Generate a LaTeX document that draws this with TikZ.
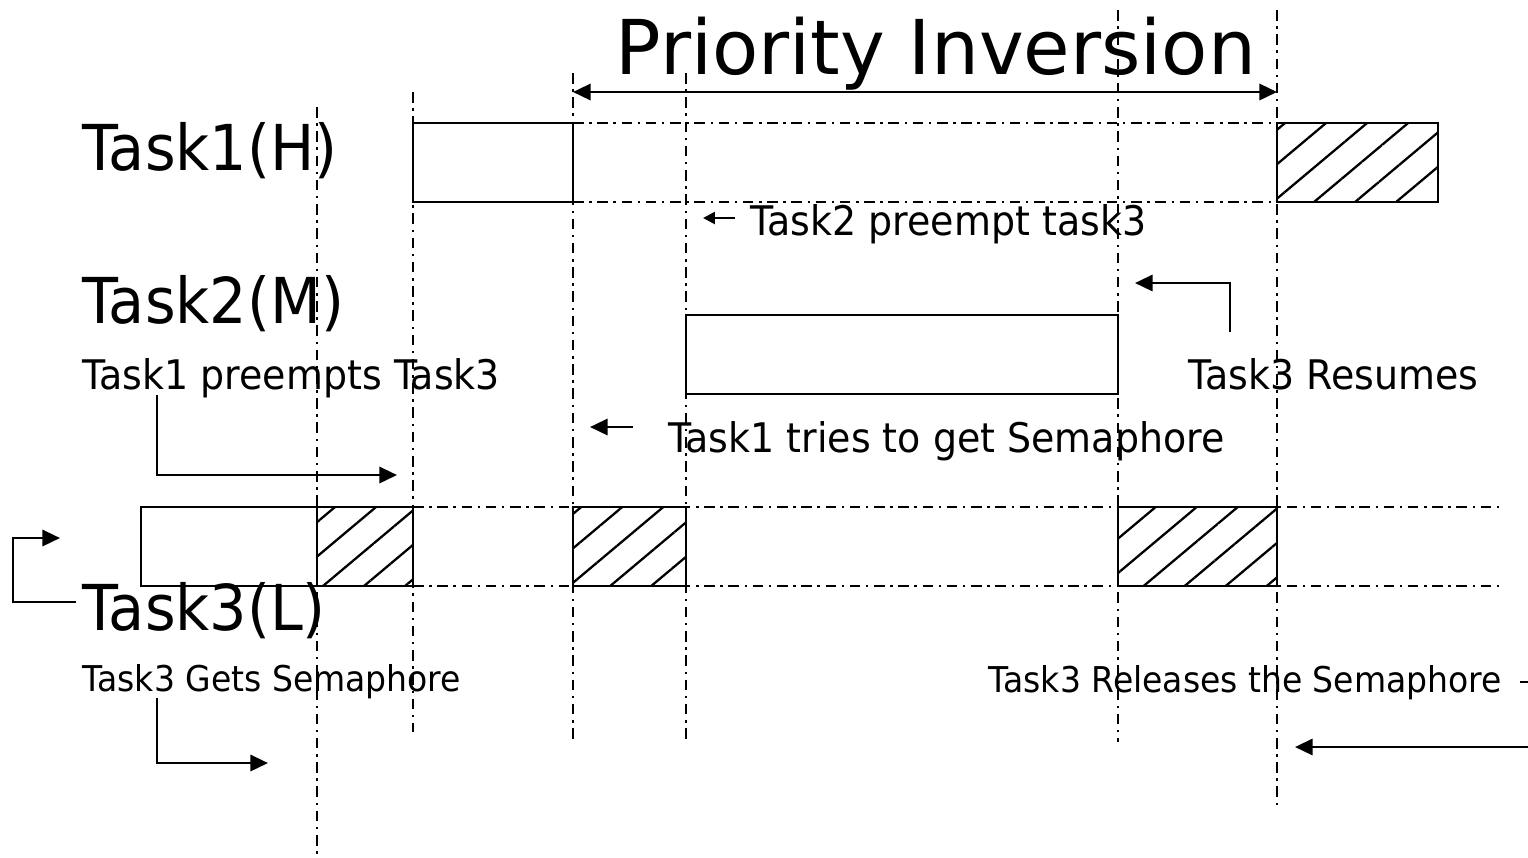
\documentclass[tikz,border=0pt]{standalone}
\usepackage{fontspec}
\setmainfont{DejaVu Sans}[FakeStretch=0.93]
\newfontfamily\headfont{DejaVu Sans}
\usetikzlibrary{arrows.meta,patterns.meta}

\tikzset{
  guide/.style={line width=0.55pt,dash pattern=on 3pt off 1.6pt on 0.7pt off 1.6pt},
  slot/.style={draw,line width=0.75pt},
  held/.style={slot,pattern={Lines[angle=40,distance=7.5pt,line width=0.65pt]}},
  pointer/.style={line width=0.75pt,-{Triangle[length=5pt,width=4.6pt]}},
  small pointer/.style={line width=0.75pt,-{Triangle[length=3.4pt,width=3.4pt]}},
  txt/.style={inner sep=0pt,anchor=base west},
  lane/.style={txt,font=\fontsize{18}{20}\selectfont},
  note/.style={txt,font=\fontsize{11.6}{14}\selectfont},
  remark/.style={txt,font=\fontsize{10.1}{12}\selectfont},
}

\begin{document}
\begin{tikzpicture}[x=0.01cm,y=-0.01cm]
    \clip (0,0) rectangle (1528,857);
    % linee verticali degli istanti
    \draw[guide] (317,107) -- (317,857);
    \draw[guide] (413,92) -- (413,732);
    \draw[guide] (573,73) -- (573,742);
    \draw[guide] (686,73) -- (686,742);
    \draw[guide] (1118,10) -- (1118,742);
    \draw[guide] (1277,10) -- (1277,808);
    % riga di task1
    \draw[guide] (573,123) -- (1277,123) (573,202) -- (1277,202);
    \draw[slot] (413,123) rectangle (573,202);
    \draw[held] (1277,123) rectangle (1438,202);
    % riga di task2
    \draw[slot] (686,315) rectangle (1118,394);
    % riga di task3
    \draw[guide] (413,507) -- (1500,507) (413,586) -- (1500,586);
    \draw[slot] (141,507) rectangle (317,586);
    \draw[held] (317,507) rectangle (413,586);
    \draw[held] (573,507) rectangle (686,586);
    \draw[held] (1118,507) rectangle (1277,586);
    % inversione di priorita
    \node[txt,font=\headfont\fontsize{21.5}{24}\selectfont] (title) at (615,74) {Priority Inversion};
    \coordinate (inv start) at (573,92);
    \coordinate (inv end) at (1277,92);
    \draw[line width=0.75pt,{Triangle[length=5pt,width=4.6pt]}-{Triangle[length=5pt,width=4.6pt]}] (inv start) -- (inv end);
    % nomi dei task
    \node[lane] (task1) at (82,170) {Task1(H)};
    \node[lane] (task2) at (82,323) {Task2(M)};
    \node[lane] (task3) at (82,630) {Task3(L)};
    % eventi
    \node[note] (preempt1) at (82,389) {Task1 preempts Task3};
    \node[note] (tries) at (668,452) {Task1 tries to get Semaphore};
    \node[note] (preempt2) at (750,235) {Task2 preempt task3};
    \node[note] (resume) at (1188,389) {Task3 Resumes};
    \node[remark] (gets) at (82,691) {Task3 Gets Semaphore};
    \node[remark] (release) at (988,692) {Task3 Releases the Semaphore};
    % frecce degli eventi
    \coordinate (preempt1 end) at (397,475);
    \draw[pointer] (preempt1.south west) ++(75,-3) |- (preempt1 end);
    \coordinate (tries end) at (590,427);
    \draw[pointer] (tries.base west) ++(-35,-25) -- (tries end);
    \coordinate (preempt2 end) at (703,218);
    \draw[small pointer] (preempt2.base west) ++(-15,-17) -- (preempt2 end);
    \coordinate (resume end) at (1135,283);
    \draw[pointer] (resume.base west) ++(42,-57) |- (resume end);
    \coordinate (gets end) at (268,763);
    \draw[pointer] (gets.base west) ++(75,7) |- (gets end);
    \coordinate (task3 end) at (60,538);
    \draw[pointer] (task3.base west) ++(-6,-28) -- ++(-63,0) |- (task3 end);
    \coordinate (release end) at (1295,747);
    \draw[pointer] (release.base east) ++(17,-10) -- ++(50,0) |- (release end);
\end{tikzpicture}
\end{document}
